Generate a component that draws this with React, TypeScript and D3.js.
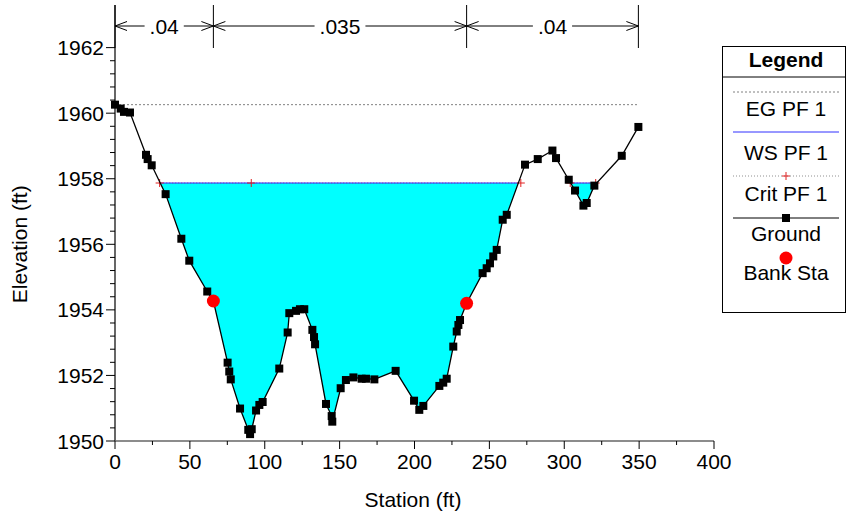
import React from "react";
import * as d3 from "d3";

const groundStation = [0, 3.8, 6, 10, 20.7, 21.8, 24.5, 33.8, 44.3, 49.6, 61.6, 65.7, 75.2, 76.3, 77.3, 83.5, 89, 90.2, 91.3, 94.2, 96.4, 98.6, 109.7, 115.3, 116.4, 120.9, 123.5, 126.4, 131.8, 132.9, 133.6, 140.9, 144.7, 145.1, 150.7, 154.2, 159.2, 164.7, 167.6, 173.2, 187.4, 199.7, 203.2, 205.9, 216.6, 219.2, 221.5, 225.9, 228.2, 229.3, 230.4, 234.8, 245.5, 248.2, 250.4, 252.6, 254.9, 258.9, 261.6, 273.8, 282.3, 292.1, 294.5, 303, 307.2, 312.8, 315, 320.1, 338.4, 349.5];
const groundElev = [1960.26, 1960.14, 1960.04, 1960.02, 1958.73, 1958.6, 1958.41, 1957.53, 1956.17, 1955.5, 1954.56, 1954.27, 1952.39, 1952.12, 1951.88, 1950.99, 1950.34, 1950.21, 1950.36, 1950.93, 1951.1, 1951.19, 1952.21, 1953.31, 1953.9, 1953.97, 1954.02, 1954.02, 1953.39, 1953.17, 1952.95, 1951.13, 1950.76, 1950.59, 1951.61, 1951.86, 1951.94, 1951.9, 1951.9, 1951.88, 1952.14, 1951.23, 1950.95, 1951.07, 1951.68, 1951.78, 1951.9, 1952.88, 1953.34, 1953.54, 1953.69, 1954.2, 1955.12, 1955.27, 1955.42, 1955.63, 1955.83, 1956.75, 1956.9, 1958.43, 1958.6, 1958.86, 1958.63, 1957.97, 1957.64, 1957.18, 1957.26, 1957.79, 1958.7, 1959.58];
const bankStation = [65.7, 234.8];
const bankElev = [1954.27, 1954.2];
const wsElev = 1957.87;
const egElev = 1960.26;
const critElev = 1957.87;
const critStations = [29.8, 91, 271, 304, 321];
const nValues = [".04", ".035", ".04"];
const xTicks = [0, 50, 100, 150, 200, 250, 300, 350, 400];
const yTicks = [1950, 1952, 1954, 1956, 1958, 1960, 1962];
const legendLabels = ["EG PF 1", "WS PF 1", "Crit PF 1", "Ground", "Bank Sta"];

const FONT = "Arial, 'Liberation Sans', sans-serif";
const FS = 21;

function wetSegments(st: number[], el: number[], h: number): [number, number][] {
  const segs: [number, number][] = [];
  let start: number | null = el[0] < h ? st[0] : null;
  for (let i = 1; i < st.length; i++) {
    const a = el[i - 1], b = el[i];
    if ((a >= h && b < h) || (a < h && b >= h)) {
      const t = (h - a) / (b - a);
      const s = st[i - 1] + t * (st[i] - st[i - 1]);
      if (a >= h) start = s;
      else if (start !== null) { segs.push([start, s]); start = null; }
    }
  }
  return segs;
}

export default function App() {
  const W = 847, H = 518;
  const x = d3.scaleLinear().domain([0, 400]).range([115, 714]);
  const y = d3.scaleLinear().domain([1950, 1963.3]).range([441, 5]);
  const pts = groundStation.map((s, i) => [s, groundElev[i]] as [number, number]);
  const line = d3.line<[number, number]>().x(d => x(d[0])).y(d => y(d[1]));
  const groundPath = line(pts) || "";
  const last = groundStation[groundStation.length - 1];
  const clipPoly = pts.map(d => `${x(d[0])},${y(d[1])}`).concat([`${x(last)},${y(1963.3)}`, `${x(0)},${y(1963.3)}`]).join(" ");
  const segs = wetSegments(groundStation, groundElev, wsElev);
  const minorY = d3.range(1950, 1962.01, 0.4).filter(v => Math.abs((v - 1950) / 2 - Math.round((v - 1950) / 2)) > 0.01);
  const minorX = d3.range(25, 400, 50);
  const bounds = [0, bankStation[0], bankStation[1], last];
  const annY = 26;
  const chevron = (px: number, dir: number) => `M${px + dir * 12},${annY - 4.5}L${px},${annY}L${px + dir * 12},${annY + 4.5}`;
  const SQ = 8;

  const lx1 = 733, lx2 = 839, lcx = 786;
  return (
    <svg width={W} height={H} style={{ position: "absolute", left: 0, top: 0, background: "#fff" }} fontFamily={FONT}>
      <defs>
        <clipPath id="aboveGround"><polygon points={clipPoly} /></clipPath>
      </defs>
      <rect x={x(0)} y={y(wsElev)} width={x(last) - x(0)} height={y(1950) - y(wsElev)} fill="#00ffff" clipPath="url(#aboveGround)" />
      <line x1={x(0)} x2={x(last)} y1={y(egElev)} y2={y(egElev)} stroke="#808080" strokeWidth={1} strokeDasharray="2,2" />
      {segs.map((s, i) => (
        <line key={"c" + i} x1={x(s[0])} x2={x(s[1])} y1={y(critElev)} y2={y(critElev)} stroke="#e04040" strokeWidth={1} strokeDasharray="1,2" />
      ))}
      {segs.map((s, i) => (
        <line key={"w" + i} x1={x(s[0])} x2={x(s[1])} y1={y(wsElev)} y2={y(wsElev)} stroke="#3030ff" strokeWidth={1} />
      ))}
      {critStations.map((s, i) => (
        <path key={"cp" + i} d={`M${x(s) - 4},${y(critElev)}H${x(s) + 4}M${x(s)},${y(critElev) - 4}V${y(critElev) + 4}`} stroke="#e02020" strokeWidth={1} />
      ))}
      <path d={groundPath} fill="none" stroke="#000" strokeWidth={1.3} />
      {pts.map((d, i) => (
        <rect key={"g" + i} x={x(d[0]) - SQ / 2} y={y(d[1]) - SQ / 2} width={SQ} height={SQ} fill="#000" />
      ))}
      {bankStation.map((s, i) => (
        <circle key={"b" + i} cx={x(s)} cy={y(bankElev[i])} r={6.5} fill="#ff0000" />
      ))}
      <line x1={x(0)} x2={x(0)} y1={y(1950)} y2={5} stroke="#000" strokeWidth={1.2} />
      <line x1={x(0)} x2={x(400)} y1={y(1950)} y2={y(1950)} stroke="#666" strokeWidth={1.5} />
      {yTicks.map(v => (
        <g key={"yt" + v}>
          <line x1={x(0) - 9} x2={x(0)} y1={y(v)} y2={y(v)} stroke="#000" />
          <text x={x(0) - 11} y={y(v) + 7.5} textAnchor="end" fontSize={FS} fill="#000">{v}</text>
        </g>
      ))}
      {minorY.map((v, i) => (
        <line key={"ym" + i} x1={x(0) - 5} x2={x(0)} y1={y(v)} y2={y(v)} stroke="#000" />
      ))}
      {xTicks.map(v => (
        <g key={"xt" + v}>
          <line x1={x(v)} x2={x(v)} y1={y(1950)} y2={y(1950) + 8} stroke="#000" />
          <text x={x(v)} y={469} textAnchor="middle" fontSize={FS} fill="#000">{v}</text>
        </g>
      ))}
      {minorX.map(v => (
        <line key={"xm" + v} x1={x(v)} x2={x(v)} y1={y(1950)} y2={y(1950) + 4} stroke="#000" />
      ))}
      <text x={413} y={507} textAnchor="middle" fontSize={FS} fill="#000">Station (ft)</text>
      <text transform={`translate(27,${y(1956)}) rotate(-90)`} textAnchor="middle" fontSize={FS} fill="#000">Elevation (ft)</text>
      {bounds.map((b, i) => (
        <line key={"bv" + i} x1={x(b)} x2={x(b)} y1={5} y2={48} stroke="#000" strokeWidth={1} />
      ))}
      {nValues.map((n, i) => {
        const a = x(bounds[i]), b = x(bounds[i + 1]);
        const c = (a + b) / 2;
        const tw = FS * (0.278 + 0.556 * (n.length - 1));
        return (
          <g key={"n" + i}>
            <line x1={a} x2={c - tw / 2 - 5} y1={annY} y2={annY} stroke="#000" />
            <line x1={c + tw / 2 + 5} x2={b} y1={annY} y2={annY} stroke="#000" />
            <path d={chevron(a, 1)} fill="none" stroke="#000" strokeWidth={1} />
            <path d={chevron(b, -1)} fill="none" stroke="#000" strokeWidth={1} />
            <text x={c} y={annY + 7.5} textAnchor="middle" fontSize={FS} fill="#000">{n}</text>
          </g>
        );
      })}
      <rect x={722.5} y={46.5} width={123} height={266} fill="#fff" stroke="#000" strokeWidth={1} />
      <text x={lcx} y={67} textAnchor="middle" fontSize={FS} fontWeight="bold" fill="#000">Legend</text>
      <line x1={722.5} x2={845.5} y1={77} y2={77} stroke="#000" />
      <line x1={lx1} x2={lx2} y1={92} y2={92} stroke="#808080" strokeDasharray="2,2" />
      <text x={lcx} y={115.5} textAnchor="middle" fontSize={FS} fill="#000">{legendLabels[0]}</text>
      <line x1={lx1} x2={lx2} y1={132} y2={132} stroke="#3030ff" />
      <text x={lcx} y={159.5} textAnchor="middle" fontSize={FS} fill="#000">{legendLabels[1]}</text>
      <line x1={lx1} x2={lx2} y1={176} y2={176} stroke="#909090" strokeDasharray="1,2" />
      <path d={`M${lcx - 4},176H${lcx + 4}M${lcx},172V180`} stroke="#e02020" />
      <text x={lcx} y={200.5} textAnchor="middle" fontSize={FS} fill="#000">{legendLabels[2]}</text>
      <line x1={lx1} x2={lx2} y1={218} y2={218} stroke="#000" />
      <rect x={lcx - SQ / 2} y={218 - SQ / 2} width={SQ} height={SQ} fill="#000" />
      <text x={lcx} y={240.5} textAnchor="middle" fontSize={FS} fill="#000">{legendLabels[3]}</text>
      <circle cx={lcx} cy={258} r={6.5} fill="#ff0000" />
      <text x={lcx} y={279.5} textAnchor="middle" fontSize={FS} fill="#000">{legendLabels[4]}</text>
    </svg>
  );
}
